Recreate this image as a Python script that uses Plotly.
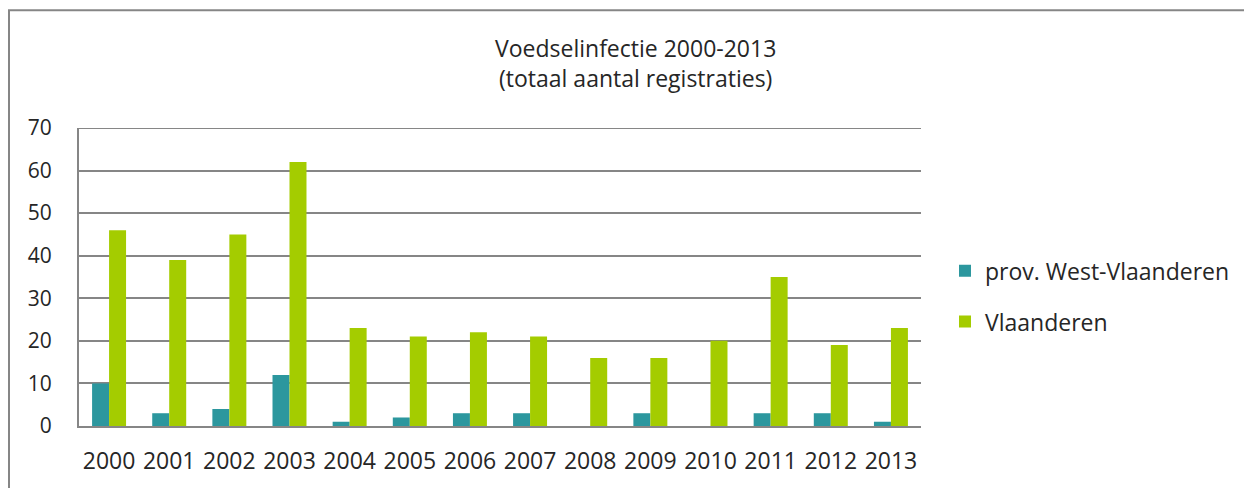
import plotly.graph_objects as go

years = ["2000", "2001", "2002", "2003", "2004", "2005", "2006", "2007",
         "2008", "2009", "2010", "2011", "2012", "2013"]
west_vlaanderen = [10, 3, 4, 12, 1, 2, 3, 3, 0, 3, 0, 3, 3, 1]
vlaanderen = [46, 39, 45, 62, 23, 21, 22, 21, 16, 16, 20, 35, 19, 23]

# page body has an 8px margin, so the figure is drawn 8px smaller
W, H = 1244, 480
L, T = 71, 120
pw, ph = 842, 300
R, B = W - L - pw, H - T - ph

fig = go.Figure()
fig.add_trace(go.Bar(x=years, y=west_vlaanderen, name="prov. West-Vlaanderen",
                     legendgroup="a",
                     marker=dict(color="#2C979E", line=dict(width=0))))
fig.add_trace(go.Bar(x=years, y=vlaanderen, name="Vlaanderen",
                     legendgroup="b",
                     marker=dict(color="#A4CC00", line=dict(width=0))))

font = "Open Sans, Noto Sans, sans-serif"
fig.update_layout(
    width=W, height=H,
    margin=dict(l=L, r=R, t=T, b=B),
    paper_bgcolor="white", plot_bgcolor="white",
    barmode="group", bargap=0.435, bargroupgap=0,
    font=dict(family=font, color="#262626", size=21),
    showlegend=True,
    legend=dict(x=(937 - L) / pw, y=(T + ph - 242) / ph, xanchor="left", yanchor="top",
                font=dict(size=23, color="#262626"), tracegroupgap=18,
                traceorder="grouped", bgcolor="rgba(0,0,0,0)"),
    xaxis=dict(showgrid=False, showline=True, linecolor="#868686", linewidth=2,
               ticks="", tickfont=dict(size=23), ticklabelstandoff=13),
    yaxis=dict(range=[0, 70], dtick=10, showgrid=True, gridcolor="#868686",
               gridwidth=2, showline=True, linecolor="#868686", linewidth=2,
               zeroline=False, ticks="", tickfont=dict(size=21), ticklabelstandoff=21),
)
tx = (627 - L) / pw
fig.add_annotation(text="Voedselinfectie 2000-2013",
                   xref="paper", yref="paper", x=tx, y=(T + ph - 39) / ph,
                   showarrow=False, xanchor="center", yanchor="middle",
                   font=dict(size=23, color="#262626"))
fig.add_annotation(text="(totaal aantal registraties)",
                   xref="paper", yref="paper", x=tx, y=(T + ph - 70) / ph,
                   showarrow=False, xanchor="center", yanchor="middle",
                   font=dict(size=23, color="#262626"))
# top gridline at 70
fig.add_shape(type="line", xref="paper", yref="y", x0=0, x1=1, y0=70, y1=70,
              line=dict(color="#868686", width=2))
# outer chart frame
fig.add_shape(type="rect", xref="paper", yref="paper",
              x0=(1 - L) / pw, x1=(W + 20 - L) / pw,
              y0=(T + ph - H - 20) / ph, y1=(T + ph - 1.5) / ph,
              line=dict(color="#868686", width=2), layer="below")

fig.write_html("out.html")
